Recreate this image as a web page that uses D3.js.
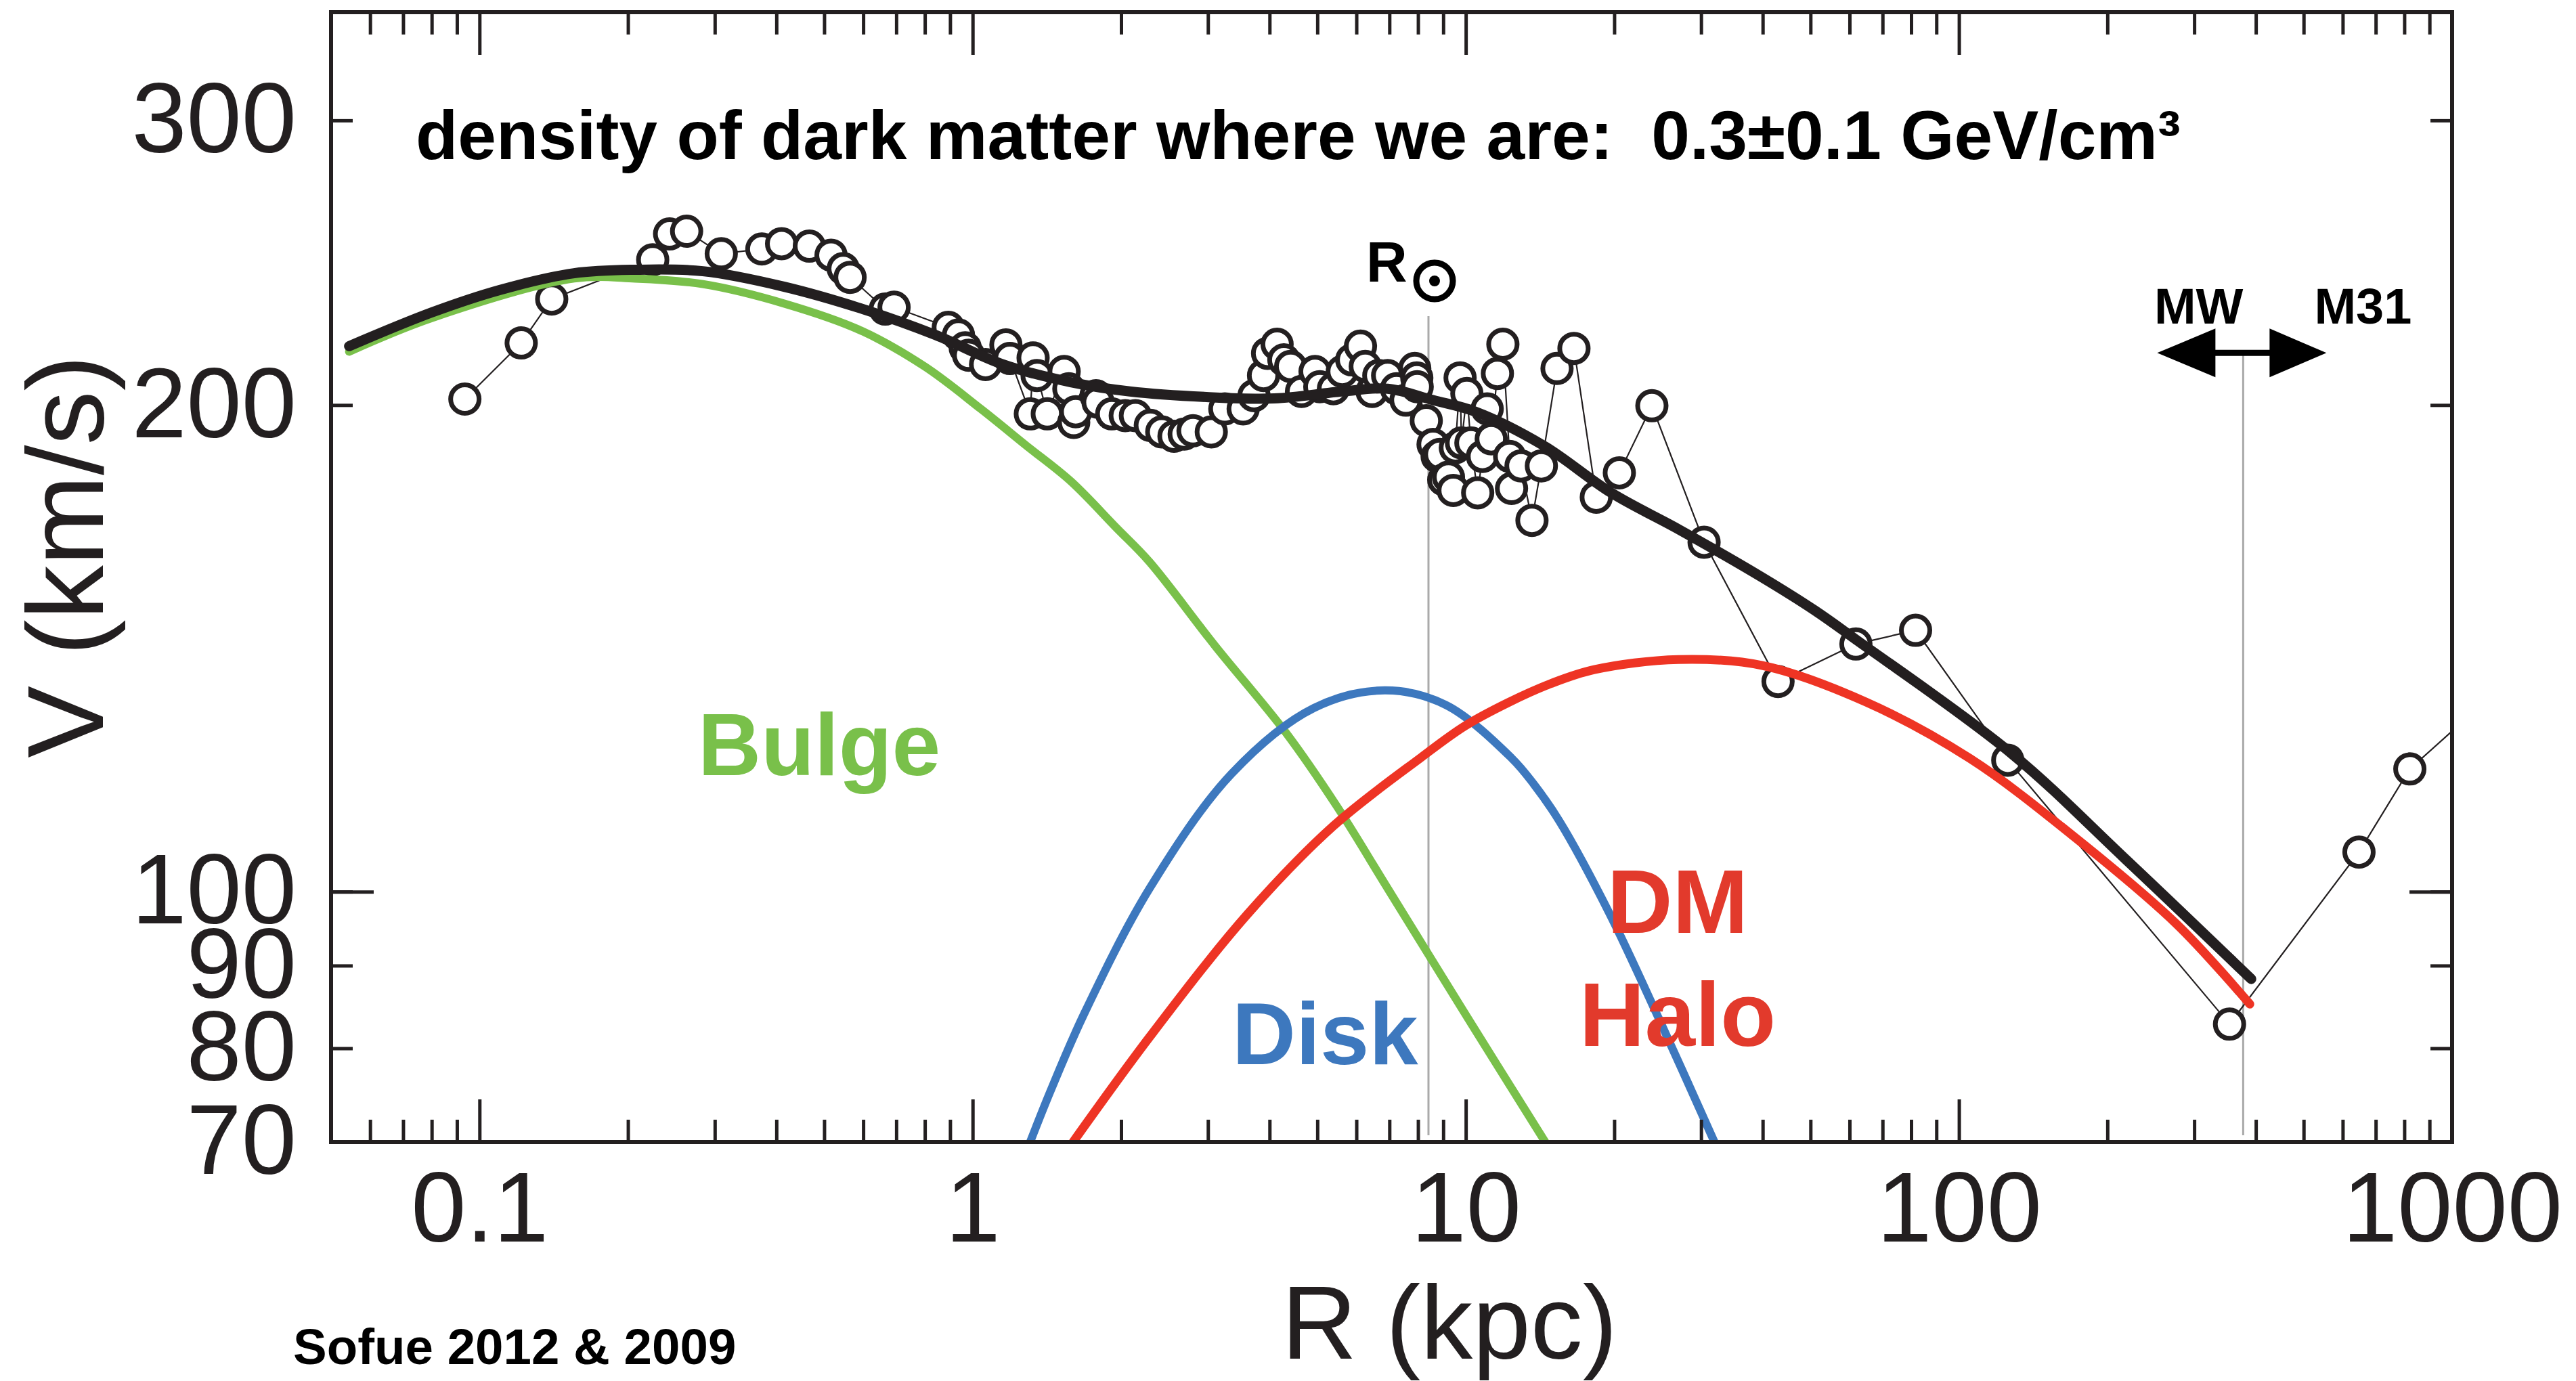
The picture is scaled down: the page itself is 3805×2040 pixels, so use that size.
<!DOCTYPE html>
<html lang="en">
<head>
<meta charset="UTF-8">
<title>Milky Way rotation curve</title>
<script src="https://d3js.org/d3.v7.min.js"></script>
<style>
  body { margin: 0; background: #fff; }
  svg { display: block; font-family: "Liberation Sans", Arial, Helvetica, sans-serif; }
  .tick line { stroke: #231f20; stroke-width: 5px; }
  .tick text { font-size: 146px; fill: #231f20; }
  .domain { display: none; }
  .frame { fill: none; stroke: #231f20; stroke-width: 6px; }
  .obs-line { fill: none; stroke: #231f20; stroke-width: 2.2px; }
  .obs { fill: #fff; stroke: #231f20; stroke-width: 7px; }
  .model { fill: none; stroke-linecap: round; stroke-linejoin: round; }
  .ref { stroke: #aaaaaa; stroke-width: 3px; }
</style>
</head>
<body>
<div id="chart"></div>
<script>
// observed rotation curve (R kpc, V km/s), ordered by R
var obsR = [0.0934, 0.1215, 0.1401, 0.2245, 0.2429, 0.263, 0.3092, 0.3737, 0.4098, 0.4665,
            0.5162, 0.5465, 0.5642, 0.6649, 0.6929, 0.8925, 0.9359, 0.9659, 0.9814, 1.062,
            1.168, 1.19, 1.309, 1.326, 1.351, 1.417, 1.533, 1.567, 1.603, 1.618,
            1.779, 1.796, 1.914, 2.039, 2.138, 2.292, 2.418, 2.56, 2.685, 2.798,
            3.047, 3.246, 3.536, 3.72, 3.889, 3.963, 4.143, 4.276, 4.414, 4.643,
            4.946, 5.057, 5.389, 5.616, 5.87, 6.116, 6.253, 6.454, 6.662, 6.942,
            7.234, 7.562, 7.88, 7.955, 7.97, 8.315, 8.582, 8.747, 8.86, 9.02,
            9.223, 9.432, 9.523, 9.737, 9.8, 10.05, 10.24, 10.57, 10.81, 11.05,
            11.26, 11.59, 11.89, 12.27, 12.38, 12.94, 13.62, 14.23, 15.31, 16.57,
            18.39, 20.48, 23.84, 30.42, 42.97, 61.81, 81.67, 125.6, 353.7, 647.4,
            820.9, 1300];
var obsV = [201.7, 218.5, 232.6, 246.0, 255.2, 256.2, 248.1, 249.8, 251.7, 250.8,
            247.6, 242.9, 239.9, 229.3, 229.9, 223.4, 221.0, 217.0, 214.7, 211.9,
            217.9, 213.7, 197.5, 213.9, 208.6, 197.5, 209.8, 204.7, 195.1, 198.1,
            202.7, 200.8, 197.5, 197.0, 197.0, 194.3, 192.5, 191.3, 191.9, 192.8,
            192.5, 198.9, 198.9, 202.7, 208.6, 215.3, 218.1, 213.3, 211.3, 203.9,
            209.8, 205.3, 204.7, 209.8, 213.3, 217.5, 211.3, 203.9, 208.6, 208.6,
            204.7, 201.4, 210.7, 207.9, 205.3, 195.6, 189.1, 185.9, 186.4, 179.8,
            180.5, 177.1, 188.2, 207.9, 189.5, 203.3, 189.5, 176.5, 185.9, 198.9,
            190.6, 209.2, 218.1, 185.9, 177.6, 183.4, 169.7, 183.4, 210.7, 216.8,
            175.4, 181.6, 199.8, 164.5, 134.9, 142.3, 145.1, 120.6, 82.8, 105.8,
            119.1, 135];

// model components
var bulgeR = [0.0544, 0.08, 0.1555, 0.2067, 0.2837, 0.415, 0.5933, 0.7991, 1.039, 1.284,
              1.582, 1.957, 2.282, 3.103, 4.318, 5.48, 6.952, 10.0, 14.49];
var bulgeV = [215.8, 226.4, 239.5, 239.5, 237.6, 231.1, 222.4, 211.3, 198.9, 188.8,
              179.4, 167.9, 160.0, 141.9, 125.4, 112.9, 100.4, 83.9, 70];

var diskR = [1.308, 1.439, 1.679, 2.282, 3.351, 4.92, 6.846, 9.096, 12.37, 13.75,
             15.5, 19.54, 24.61, 31.93];
var diskV = [70, 75.3, 83.9, 100.4, 118.3, 129.9, 133.2, 130.5, 121.0, 116.5,
             110.5, 97.0, 83.5, 70];

var haloR = [1.598, 2.292, 3.604, 5.388, 8.128, 9.954, 12.19, 14.88, 18.22, 26.98,
             39.95, 64.83, 105.2, 170.8, 277.1, 388.9];
var haloV = [70, 81.4, 96.8, 109.8, 121.1, 126.6, 130.9, 134.5, 137.2, 139.2,
             138.0, 131.0, 120.9, 108.2, 95.4, 85.2];

var totalR = [0.0544, 0.08, 0.1098, 0.1555, 0.2067, 0.2837, 0.415, 0.6124, 0.8403, 1.153,
              1.582, 2.084, 2.98, 4.091, 5.616, 6.942, 8.582, 10.47, 14.37, 19.72,
              27.06, 39.57, 50.96, 61.81, 127.6, 217.9, 391.4];
var totalV = [217.5, 228.2, 235.6, 241.3, 242.5, 242.0, 236.7, 228.8, 221.0, 211.9,
              206.6, 203.9, 202.3, 201.9, 203.9, 204.7, 201.4, 198.1, 188.8, 176.5,
              167.5, 156.7, 149.3, 143.2, 121.8, 104.7, 88.3];

// axes
var xMajor = [0.1, 1, 10, 100, 1000];
var xTickLabels = ["0.1", "1", "10", "100", "1000"];
var xMinor = [0.06, 0.07, 0.08, 0.09, 0.2, 0.3, 0.4, 0.5, 0.6, 0.7, 0.8, 0.9,
              2, 3, 4, 5, 6, 7, 8, 9, 20, 30, 40, 50, 60, 70, 80, 90,
              200, 300, 400, 500, 600, 700, 800, 900];
var yTicks = [70, 80, 90, 100, 200, 300];
var yTickLabels = ["70", "80", "90", "100", "200", "300"];
var yLong = [100];

// reference radii
var sunR = 8.4, sunTopV = 227;
var mwR = 377, mwTopV = 215;

var colors = { bulge: "#79c04a", disk: "#3d78be", halo: "#ee3424", total: "#231f20",
               haloText: "#e23a2c" };

var W = 3805, H = 2040;
var margin = { left: 489, right: 183, top: 18, bottom: 353 };
var x0 = margin.left, x1 = W - margin.right, y0 = margin.top, y1 = H - margin.bottom;

var x = d3.scaleLog().domain([0.05, 1000]).range([x0, x1]);
var y = d3.scaleLog().domain([70, 350]).range([y1, y0]);

var svg = d3.select("#chart").append("svg")
    .attr("width", W).attr("height", H);

svg.append("rect").attr("width", W).attr("height", H).attr("fill", "#fff");

svg.append("clipPath").attr("id", "plotclip")
  .append("rect").attr("x", x0).attr("y", y0).attr("width", x1 - x0).attr("height", y1 - y0);

var plot = svg.append("g").attr("clip-path", "url(#plotclip)");

// vertical reference lines (Sun, MW/M31 midpoint)
plot.append("line").attr("class", "ref")
    .attr("x1", x(sunR)).attr("x2", x(sunR)).attr("y1", y(sunTopV)).attr("y2", y1 - 10);
plot.append("line").attr("class", "ref")
    .attr("x1", x(mwR)).attr("x2", x(mwR)).attr("y1", y(mwTopV)).attr("y2", y1 - 10);

var obs = obsR.map(function (r, i) { return { r: r, v: obsV[i] }; });

var thin = d3.line().x(function (d) { return x(d.r); }).y(function (d) { return y(d.v); });
plot.append("path").attr("class", "obs-line").attr("d", thin(obs));

plot.selectAll("circle.obs").data(obs).enter().append("circle")
    .attr("class", "obs")
    .attr("cx", function (d) { return x(d.r); })
    .attr("cy", function (d) { return y(d.v); })
    .attr("r", 21);

var smooth = d3.line()
    .x(function (d) { return x(d.r); })
    .y(function (d) { return y(d.v); })
    .curve(d3.curveCatmullRom.alpha(0.5));

function pairs(rs, vs) { return rs.map(function (r, i) { return { r: r, v: vs[i] }; }); }

var models = [
  { name: "bulge", pts: pairs(bulgeR, bulgeV), color: colors.bulge, w: 12 },
  { name: "disk", pts: pairs(diskR, diskV), color: colors.disk, w: 12 },
  { name: "halo", pts: pairs(haloR, haloV), color: colors.halo, w: 13 },
  { name: "total", pts: pairs(totalR, totalV), color: colors.total, w: 15 }
];

plot.selectAll("path.model").data(models).enter().append("path")
    .attr("class", "model")
    .attr("d", function (d) { return smooth(d.pts); })
    .attr("stroke", function (d) { return d.color; })
    .attr("stroke-width", function (d) { return d.w; });

// component labels
svg.append("text").attr("x", 1031).attr("y", 1145)
    .attr("font-size", 129).attr("font-weight", "bold").attr("fill", colors.bulge)
    .text("Bulge");
svg.append("text").attr("x", 1820).attr("y", 1572)
    .attr("font-size", 130).attr("font-weight", "bold").attr("fill", colors.disk)
    .text("Disk");
svg.append("text").attr("x", 2478).attr("y", 1378).attr("text-anchor", "middle")
    .attr("font-size", 134).attr("font-weight", "bold").attr("fill", colors.haloText)
    .text("DM");
svg.append("text").attr("x", 2478).attr("y", 1545).attr("text-anchor", "middle")
    .attr("font-size", 134).attr("font-weight", "bold").attr("fill", colors.haloText)
    .text("Halo");

// title
svg.append("text").attr("x", 614).attr("y", 235)
    .attr("font-size", 102).attr("font-weight", "bold").attr("fill", "#000")
    .attr("xml:space", "preserve").style("white-space", "pre")
    .text("density of dark matter where we are:  0.3\u00b10.1 GeV/cm\u00b3");

// R_sun marker
var sx = x(sunR);
svg.append("text").attr("x", sx - 92).attr("y", 416)
    .attr("font-size", 84).attr("font-weight", "bold").attr("fill", "#000").text("R");
svg.append("circle").attr("cx", sx + 9).attr("cy", 415).attr("r", 27)
    .attr("fill", "#fff").attr("stroke", "#000").attr("stroke-width", 9);
svg.append("circle").attr("cx", sx + 9).attr("cy", 415).attr("r", 8).attr("fill", "#000");

// MW / M31 arrow
var mx = x(mwR), ay = y(mwTopV) - 2;
svg.append("line").attr("x1", mx - 42).attr("x2", mx + 40).attr("y1", ay).attr("y2", ay)
    .attr("stroke", "#000").attr("stroke-width", 9);
svg.append("path").attr("fill", "#000")
    .attr("d", "M" + (mx - 127) + "," + ay + "L" + (mx - 41) + "," + (ay - 36) +
               "L" + (mx - 41) + "," + (ay + 36) + "Z");
svg.append("path").attr("fill", "#000")
    .attr("d", "M" + (mx + 123) + "," + ay + "L" + (mx + 39) + "," + (ay - 36) +
               "L" + (mx + 39) + "," + (ay + 36) + "Z");
svg.append("text").attr("x", mx).attr("y", 478).attr("text-anchor", "end")
    .attr("font-size", 74).attr("font-weight", "bold").attr("fill", "#000").text("MW");
svg.append("text").attr("x", mx + 105).attr("y", 478)
    .attr("font-size", 74).attr("font-weight", "bold").attr("fill", "#000").text("M31");

// axes
svg.append("g").attr("transform", "translate(0," + y1 + ")")
    .call(d3.axisBottom(x).tickValues(xMajor).tickSize(-63).tickSizeOuter(0).tickPadding(43)
          .tickFormat(function (d, i) { return xTickLabels[i]; }));
svg.append("g").attr("transform", "translate(0," + y1 + ")")
    .call(d3.axisBottom(x).tickValues(xMinor).tickSize(-33).tickSizeOuter(0).tickFormat(""));
svg.append("g").attr("transform", "translate(0," + y0 + ")")
    .call(d3.axisTop(x).tickValues(xMajor).tickSize(-63).tickSizeOuter(0).tickFormat(""));
svg.append("g").attr("transform", "translate(0," + y0 + ")")
    .call(d3.axisTop(x).tickValues(xMinor).tickSize(-33).tickSizeOuter(0).tickFormat(""));

svg.append("g").attr("transform", "translate(" + x0 + ",0)")
    .call(d3.axisLeft(y).tickValues(yTicks).tickSize(-32).tickSizeOuter(0).tickPadding(51)
          .tickFormat(function (d, i) { return yTickLabels[i]; }));
svg.append("g").attr("transform", "translate(" + x0 + ",0)")
    .call(d3.axisLeft(y).tickValues(yLong).tickSize(-63).tickSizeOuter(0).tickFormat(""));
svg.append("g").attr("transform", "translate(" + x1 + ",0)")
    .call(d3.axisRight(y).tickValues(yTicks).tickSize(-32).tickSizeOuter(0).tickFormat(""));
svg.append("g").attr("transform", "translate(" + x1 + ",0)")
    .call(d3.axisRight(y).tickValues(yLong).tickSize(-63).tickSizeOuter(0).tickFormat(""));

svg.append("rect").attr("class", "frame")
    .attr("x", x0).attr("y", y0).attr("width", x1 - x0).attr("height", y1 - y0);

// axis titles
svg.append("text").attr("x", 2141).attr("y", 2007).attr("text-anchor", "middle")
    .attr("font-size", 154).attr("fill", "#231f20").text("R (kpc)");
svg.append("text").attr("transform", "translate(152,822) rotate(-90)")
    .attr("text-anchor", "middle").attr("font-size", 160).attr("fill", "#231f20")
    .text("V (km/s)");

svg.append("text").attr("x", 433).attr("y", 2015)
    .attr("font-size", 74.5).attr("font-weight", "bold").attr("fill", "#000")
    .text("Sofue 2012 & 2009");
</script>
</body>
</html>
